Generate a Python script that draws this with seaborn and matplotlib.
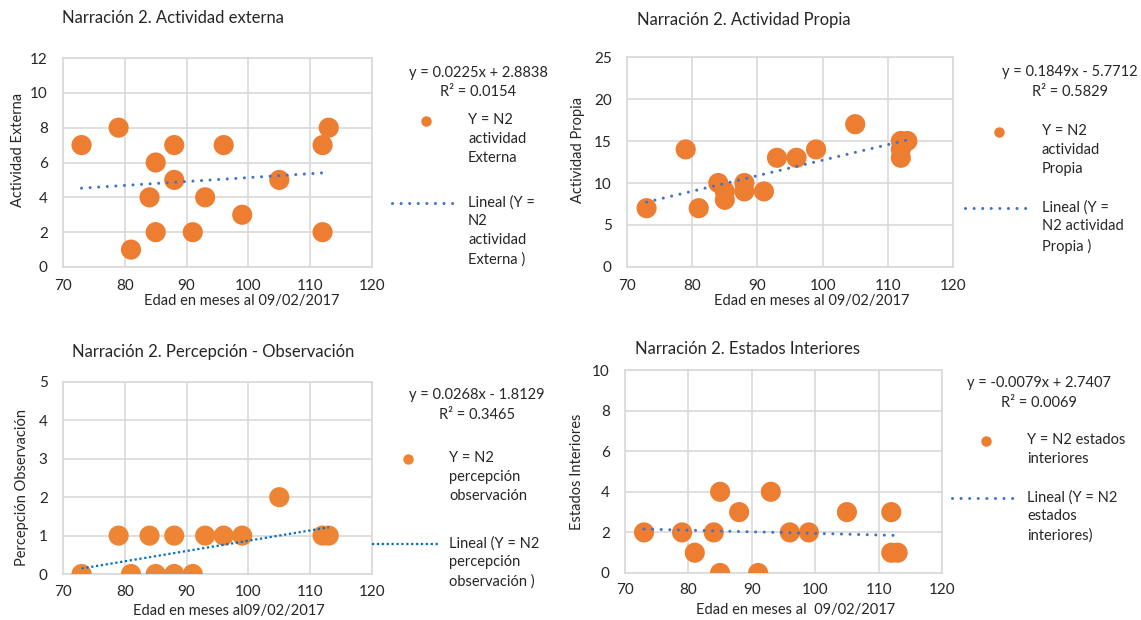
import seaborn as sns
import matplotlib.pyplot as plt
import pandas as pd
from matplotlib.lines import Line2D

# ---- data ----
ext_x = [73, 79, 81, 84, 85, 85, 88, 88, 91, 93, 96, 99, 105, 112, 112, 113]
ext_y = [7, 8, 1, 4, 6, 2, 7, 5, 2, 4, 7, 3, 5, 7, 2, 8]

prop_x = [73, 79, 81, 84, 85, 85, 88, 88, 91, 93, 96, 99, 105, 112, 112, 112, 113]
prop_y = [7, 14, 7, 10, 9, 8, 10, 9, 9, 13, 13, 14, 17, 15, 14, 13, 15]

perc_x = [73, 79, 81, 84, 85, 88, 88, 91, 93, 96, 99, 105, 112, 113]
perc_y = [0, 1, 0, 1, 0, 1, 0, 0, 1, 1, 1, 2, 1, 1]

est_x = [73, 79, 81, 84, 85, 85, 88, 91, 93, 96, 99, 105, 112, 112, 113]
est_y = [2, 2, 1, 2, 4, 0, 3, 0, 4, 2, 2, 3, 3, 1, 1]

# trendline coefficients (slope, intercept, r2) as printed on the chart
ext_fit = (0.0225, 2.8838, 0.0154)
prop_fit = (0.1849, -5.7712, 0.5829)
perc_fit = (0.0268, -1.8129, 0.3465)
est_fit = (-0.0079, 2.7407, 0.0069)

W, H = 1141, 620
ORANGE = "#ED7D31"
BLUE = "#4472C4"
TXT = "#262626"


def fx(px):
    return px / W


def fy(py):
    return 1 - py / H


def panel(fig, rect_px, xs, ys, fit, ylim, ystep, title, title_xy, ylabel, ylab_xy,
          xlabel, xlab_xy, xpad, dot_color=ORANGE, line_color=BLUE, fine=False):
    l, t, r, b = rect_px
    ax = fig.add_axes([fx(l), fy(b), (r - l) / W, (b - t) / H])
    df = pd.DataFrame({"x": xs, "y": ys})
    sns.scatterplot(data=df, x="x", y="y", ax=ax, s=210, color=dot_color,
                    edgecolor="none", zorder=3)
    slope, icpt, _ = fit
    xf = [min(xs), max(xs)]
    line = pd.DataFrame({"x": xf, "y": [slope * v + icpt for v in xf]})
    if fine:
        sns.lineplot(data=line, x="x", y="y", ax=ax, color=line_color, lw=1.6,
                     linestyle=(0, (1.0, 1.2)), zorder=4)
    else:
        sns.lineplot(data=line, x="x", y="y", ax=ax, color=line_color, lw=2.2,
                     linestyle=(0, (0.01, 2.8)), dash_capstyle="round", zorder=4)
    ax.set_xlim(70, 120)
    ax.set_ylim(*ylim)
    ax.set_xticks(range(70, 121, 10))
    ax.set_yticks(range(ylim[0], ylim[1] + 1, ystep))
    ax.grid(True, color="#D9D9D9", lw=1.2)
    for sp in ax.spines.values():
        sp.set_color("#D9D9D9")
        sp.set_linewidth(1.2)
    ax.tick_params(axis="both", length=0, labelsize=11, colors=TXT)
    ax.tick_params(axis="y", pad=11)
    ax.tick_params(axis="x", pad=xpad)
    ax.set_xlabel(xlabel, fontsize=10.5, color=TXT)
    ax.set_ylabel(ylabel, fontsize=10.5, color=TXT)
    ax.xaxis.set_label_coords((xlab_xy[0] - l) / (r - l), -(xlab_xy[1] - b) / (b - t))
    ax.yaxis.set_label_coords((ylab_xy[0] - l) / (r - l), 1 - (ylab_xy[1] - t) / (b - t))
    fig.text(fx(title_xy[0]), fy(title_xy[1]), title, fontsize=12, color=TXT,
             ha="left", va="center")
    return ax


def side_legend(fig, eq_xy, r2, mk_xy, mk_lbl, ln_x, ln_y, ln_lbl, txt_x, fit,
                dot_color=ORANGE, line_color=BLUE, fine=False):
    slope, icpt, r2v = fit
    sign = "+" if icpt >= 0 else "-"
    eq = f"y = {slope:.4f}x {sign} {abs(icpt):.4f}"
    fig.text(fx(eq_xy[0]), fy(eq_xy[1]), eq, fontsize=10.5, color=TXT,
             ha="center", va="center")
    fig.text(fx(eq_xy[0]), fy(r2), f"R² = {r2v:.4f}", fontsize=10.5, color=TXT,
             ha="center", va="center")
    fig.add_artist(Line2D([fx(mk_xy[0])], [fy(mk_xy[1])], marker="o", ms=7.5,
                          color=dot_color, mec="none", transform=fig.transFigure))
    if fine:
        ls, lw, cap = (0, (1.0, 1.2)), 1.6, "butt"
    else:
        ls, lw, cap = (0, (0.01, 2.8)), 2.2, "round"
    fig.add_artist(Line2D([fx(ln_x[0]), fx(ln_x[1])], [fy(ln_y), fy(ln_y)], color=line_color,
                          lw=lw, linestyle=ls, dash_capstyle=cap,
                          transform=fig.transFigure))
    fig.text(fx(txt_x), fy(mk_xy[1] - 8), mk_lbl, fontsize=10.5, color=TXT,
             ha="left", va="top", linespacing=1.45)
    fig.text(fx(txt_x), fy(ln_y - 8), ln_lbl, fontsize=10.5, color=TXT,
             ha="left", va="top", linespacing=1.45)


def main():
    sns.set_theme(style="whitegrid")
    plt.rcParams["font.family"] = ["Lato", "DejaVu Sans"]
    fig = plt.figure(figsize=(W / 100, H / 100), dpi=100)

    panel(fig, (63, 58, 372, 267), ext_x, ext_y, ext_fit, (0, 12), 2,
          "Narración 2. Actividad externa", (62, 18), "Actividad Externa", (25, 150),
          "Edad en meses al 09/02/2017", (242, 294), 9)
    side_legend(fig, (478, 73), 92, (426, 121), "Y = N2\nactividad\nExterna",
                (392, 455), 203, "Lineal (Y =\nN2\nactividad\nExterna )", 468, ext_fit)

    panel(fig, (627, 57, 953, 267), prop_x, prop_y, prop_fit, (0, 25), 5,
          "Narración 2. Actividad Propia", (637, 20), "Actividad Propia", (585, 150),
          "Edad en meses al 09/02/2017", (812, 294), 9)
    side_legend(fig, (1070, 72), 92, (999, 132), "Y = N2\nactividad\nPropia",
                (965, 1028), 208, "Lineal (Y =\nN2 actividad\nPropia )", 1042, prop_fit)

    panel(fig, (63, 382, 372, 574), perc_x, perc_y, perc_fit, (0, 5), 1,
          "Narración 2. Percepción - Observación", (72, 352), "Percepción Observación",
          (29, 487), "Edad en meses al09/02/2017", (229, 604), 8,
          dot_color="#EE8535", line_color="#0070C0", fine=True)
    side_legend(fig, (477, 395), 415, (408, 459), "Y = N2\npercepción\nobservación",
                (372, 440), 544, "Lineal (Y = N2\npercepción\nobservación )", 449, perc_fit,
                dot_color="#EE8535", line_color="#0070C0", fine=True)

    panel(fig, (625, 370, 942, 573), est_x, est_y, est_fit, (0, 10), 2,
          "Narración 2. Estados Interiores", (635, 349), "Estados Interiores", (584, 472),
          "Edad en meses al  09/02/2017", (796, 603), 7)
    side_legend(fig, (1039, 383), 403, (986, 441), "Y = N2 estados\ninteriores",
                (952, 1014), 498, "Lineal (Y = N2\nestados\ninteriores)", 1027, est_fit)

    fig.savefig("out.png", dpi=100)


if __name__ == "__main__":
    main()
